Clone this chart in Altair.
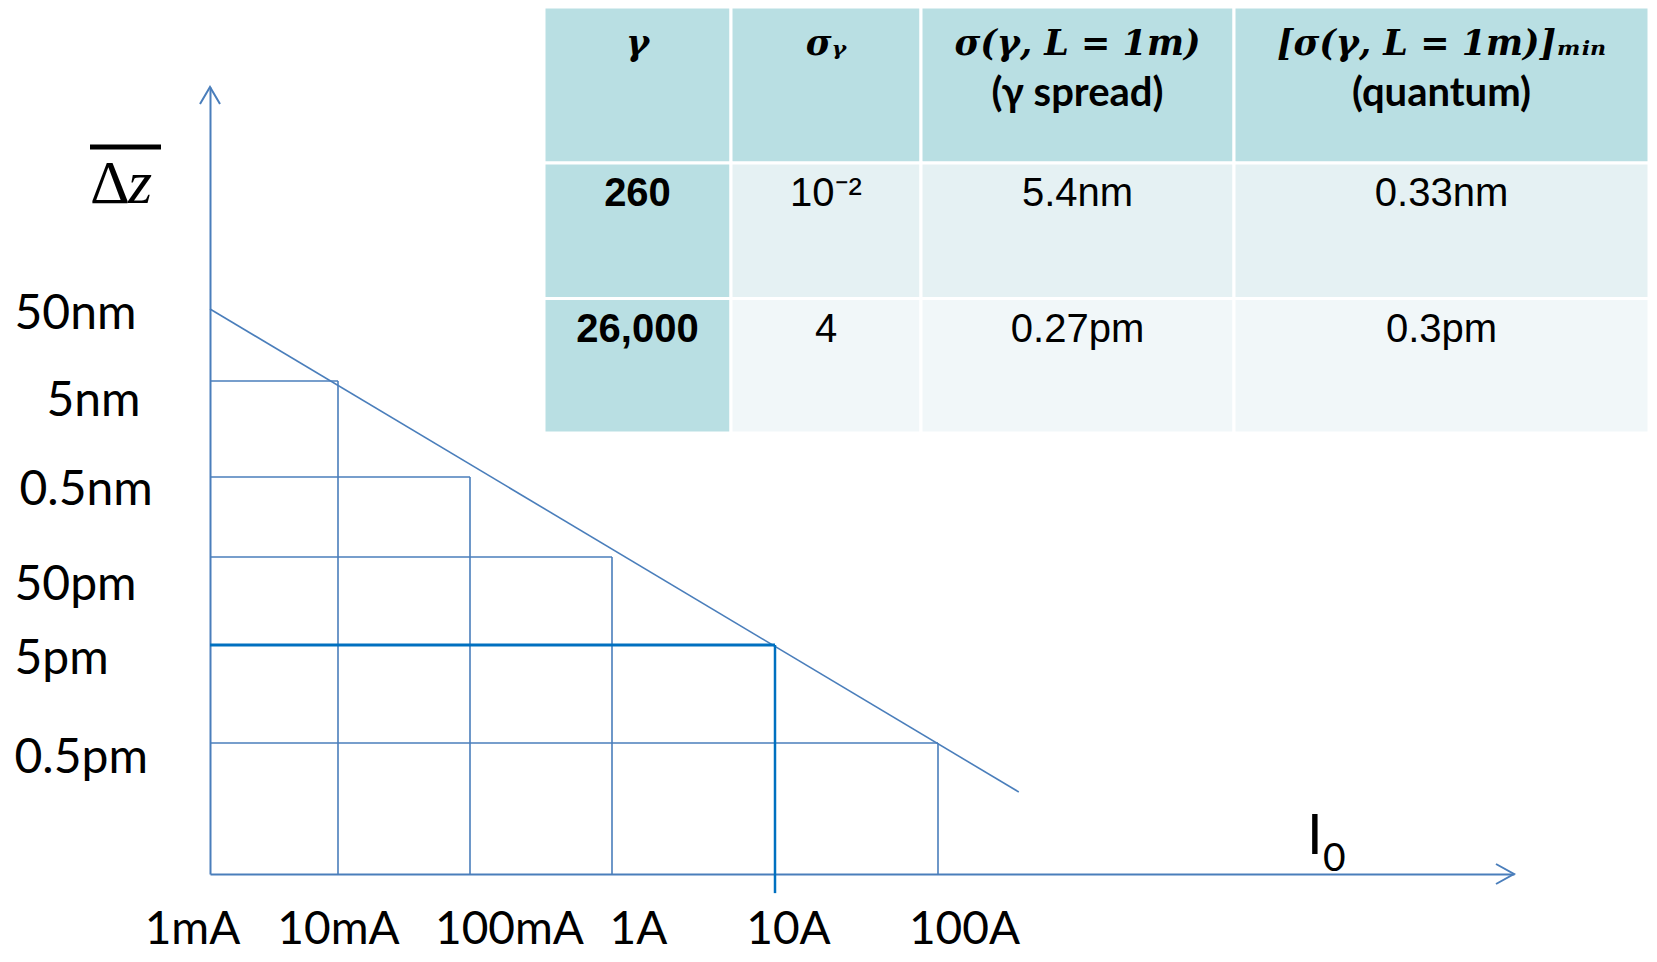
import json
import altair as alt
import pandas as pd

# ---------------- data ----------------
I_vals = [1e-3, 1e-2, 1e-1, 1, 10, 100]
I_labels = ["1mA", "10mA", "100mA", "1A", "10A", "100A"]
dz_vals = [5e-8, 5e-9, 5e-10, 5e-11, 5e-12, 5e-13]
dz_labels = ["50nm", "5nm", "0.5nm", "50pm", "5pm", "0.5pm"]

# points where the guide lines meet the sloped line
pt_I = [1e-2, 1e-1, 1, 10, 100]
pt_dz = [5e-9, 5e-10, 5e-11, 5e-12, 5e-13]

# sloped line ends
line_I = [1e-3, 320]
line_dz = [5e-8, 1.5e-13]

I_axis_end = 4e5        # I0 axis arrow tip
dz_axis_top = 5e-5      # Δz axis arrow tip
dz_axis_floor = 2e-14   # level of the I0 axis
dz_mark_floor = 1.25e-14  # 10A mark reaches below the axis
I_highlight = 10

# table
header_math = ["γ", "σᵧ", "σ(γ, L = 1m)", "[σ(γ, L = 1m)]ₘᵢₙ"]
header_note = ["", "", "(γ spread)", "(quantum)"]
gamma = ["260", "26,000"]
sigma_gamma = ["10⁻²", "4"]
sigma_spread = ["5.4nm", "0.27pm"]
sigma_quantum = ["0.33nm", "0.3pm"]

# ---------------- layout / style ----------------
BLUE = "#4A7EBB"
HI = "#0070C0"
TEAL = "#B9DFE3"
ROW1 = "#E5F1F3"
ROW2 = "#F1F7F9"

W, H = 1439, 866
x_px = [0, 128, 260, 402, 565, 728, 1304]
y_px = [866, 735, 637, 549, 469, 373, 301, 79]
x_label_dx = [-18, 0, 39, 26, 13, 26]
y_label_pad = [196, 164, 191, 196, 196, 196]
y_label_dy = [19, 34, 27, 42, 28, 29]

col_px = [334, 521, 711, 1024, 1439]
row_px = [-1, 155, 290.5, 425]

xs = alt.Scale(type="log", domain=I_vals + [I_axis_end], range=x_px, nice=False)
ys = alt.Scale(type="log", domain=[dz_axis_floor] + sorted(dz_vals) + [dz_axis_top],
               range=y_px, nice=False)


def pick(arr, vals):
    return f"{json.dumps(arr)}[indexof({json.dumps(vals)}, datum.value)]"


x_axis = alt.Axis(
    values=I_vals, labelExpr=pick(I_labels, I_vals),
    labelOffset={"expr": pick(x_label_dx, I_vals)},
    labelPadding=69, labelBaseline="alphabetic", labelAlign="center",
    labelFont="Lato", labelFontSize=46, labelColor="black",
    labelFlush=False, labelOverlap=False, labelBound=False,
    ticks=False, tickSize=0, grid=False,
    domainColor=BLUE, domainWidth=2, title=None,
)
y_axis = alt.Axis(
    values=dz_vals, labelExpr=pick(dz_labels, dz_vals),
    labelOffset={"expr": pick(y_label_dy, dz_vals)},
    labelPadding={"expr": pick(y_label_pad, dz_vals)},
    labelBaseline="alphabetic", labelAlign="left",
    labelFont="Lato", labelFontSize=48, labelColor="black",
    labelFlush=False, labelOverlap=False, labelBound=False,
    ticks=False, tickSize=0, grid=False,
    domainColor=BLUE, domainWidth=2, title=None,
)


def X(field):
    return alt.X(field, type="quantitative", scale=xs, axis=x_axis)


def Y(field):
    return alt.Y(field, type="quantitative", scale=ys, axis=y_axis)


line_df = pd.DataFrame({"I": line_I, "dz": line_dz})
pts_df = pd.DataFrame({"I": pt_I, "dz": pt_dz})

diag = alt.Chart(line_df).mark_line(color=BLUE, strokeWidth=1.6).encode(
    x=X("I"), y=Y("dz"))

hrules = alt.Chart(pts_df).transform_filter(
    alt.datum.I != I_highlight).mark_rule(color=BLUE, strokeWidth=1.7).encode(
    x=X("I"), x2=alt.X2(datum=I_vals[0]), y=Y("dz"))
vrules = alt.Chart(pts_df).transform_filter(
    alt.datum.I != I_highlight).mark_rule(color=BLUE, strokeWidth=1.6).encode(
    x=X("I"), y=Y("dz"), y2=alt.Y2(datum=dz_axis_floor))

hi_h = alt.Chart(pts_df).transform_filter(
    alt.datum.I == I_highlight).mark_rule(color=HI, strokeWidth=3).encode(
    x=X("I"), x2=alt.X2(datum=I_vals[0]), y=Y("dz"))
hi_v = alt.Chart(pts_df).transform_filter(
    alt.datum.I == I_highlight).mark_rule(color=HI, strokeWidth=2.5).encode(
    x=X("I"), y=Y("dz"), y2=alt.Y2(datum=dz_mark_floor))

arrow_y = alt.Chart(pd.DataFrame({"I": [I_vals[0]], "dz": [dz_axis_top]})).mark_point(
    shape="M-1,1.7L0,0L1,1.7", size=400, filled=False, color=BLUE,
    strokeWidth=2, opacity=1).encode(x=X("I"), y=Y("dz"))
arrow_x = alt.Chart(pd.DataFrame({"I": [I_axis_end], "dz": [dz_axis_floor]})).mark_point(
    shape="M-1.8,-1L0,0L-1.8,1", size=400, filled=False, color=BLUE,
    strokeWidth=2, opacity=1).encode(x=X("I"), y=Y("dz"))

one = pd.DataFrame({"k": [0]})
lab_delta = alt.Chart(one).mark_text(
    text="Δ", font="Liberation Serif", fontSize=62, align="left",
    baseline="alphabetic", color="black").encode(x=alt.value(-120), y=alt.value(195))
lab_z = alt.Chart(one).mark_text(
    text="z", font="Liberation Serif", fontStyle="italic", fontSize=62, align="left",
    baseline="alphabetic", color="black").encode(x=alt.value(-82), y=alt.value(195))
lab_bar = alt.Chart(one).mark_rule(color="black", strokeWidth=5).encode(
    x=alt.value(-120), x2=alt.value(-49), y=alt.value(139))
lab_I = alt.Chart(one).mark_text(
    text="I", font="Lato", fontSize=56, align="left", baseline="alphabetic",
    color="black").encode(x=alt.value(1097), y=alt.value(846))
lab_0 = alt.Chart(one).mark_text(
    text="0", font="Lato", fontSize=39, align="left", baseline="alphabetic",
    color="black").encode(x=alt.value(1113), y=alt.value(863))

plot = alt.layer(diag, hrules, vrules, hi_h, hi_v, arrow_y, arrow_x,
                 lab_delta, lab_z, lab_bar, lab_I, lab_0)

# ---------------- table ----------------
tx = alt.Scale(domain=[0, 1, 2, 3, 4], range=col_px, nice=False, zero=False)
ty = alt.Scale(domain=[0, 1, 2, 3], range=row_px, nice=False, zero=False)


def TX(field):
    return alt.X(field, type="quantitative", scale=tx, axis=None)


def TY(field):
    return alt.Y(field, type="quantitative", scale=ty, axis=None)


cells = pd.DataFrame([{"row": r, "col": c} for r in range(3) for c in range(4)])
rects = alt.Chart(cells).transform_calculate(
    col_end="datum.col + 1", row_end="datum.row + 1",
    kind="datum.row == 0 || datum.col == 0 ? 'head' : (datum.row == 1 ? 'odd' : 'even')",
).mark_rect(stroke="white", strokeWidth=3).encode(
    x=TX("col"), x2="col_end:Q", y=TY("row"), y2="row_end:Q",
    color=alt.Color("kind:N", scale=alt.Scale(domain=["head", "odd", "even"],
                                              range=[TEAL, ROW1, ROW2]), legend=None),
)

head_df = pd.DataFrame({"col": [0, 1, 2, 3], "row": [0] * 4,
                        "math": header_math, "note": header_note})
head1 = alt.Chart(head_df).transform_calculate(xc="datum.col + 0.5").mark_text(
    font="DejaVu Serif", fontStyle="italic", fontWeight="bold", fontSize=35,
    baseline="alphabetic", dy=48, color="black").encode(
    x=TX("xc"), y=TY("row"), text="math:N")
head2 = alt.Chart(head_df).transform_calculate(xc="datum.col + 0.5").mark_text(
    font="Lato", fontWeight="bold", fontSize=40,
    baseline="alphabetic", dy=99, color="black").encode(
    x=TX("xc"), y=TY("row"), text="note:N")

body_rows = []
for r in range(2):
    for c, colvals in enumerate([gamma, sigma_gamma, sigma_spread, sigma_quantum]):
        body_rows.append({"row": r + 1, "col": c, "txt": colvals[r]})
body_df = pd.DataFrame(body_rows)
body_bold = alt.Chart(body_df).transform_filter(alt.datum.col == 0).transform_calculate(
    xc="datum.col + 0.5").mark_text(
    font="Liberation Sans", fontWeight="bold", fontSize=40,
    baseline="alphabetic", dy=43, color="black").encode(
    x=TX("xc"), y=TY("row"), text="txt:N")
body_plain = alt.Chart(body_df).transform_filter(alt.datum.col != 0).transform_calculate(
    xc="datum.col + 0.5").mark_text(
    font="Liberation Sans", fontSize=40,
    baseline="alphabetic", dy=43, color="black").encode(
    x=TX("xc"), y=TY("row"), text="txt:N")

table = alt.layer(rects, head1, head2, body_bold, body_plain)

chart = alt.layer(plot, table).resolve_scale(
    x="independent", y="independent", color="independent"
).properties(
    width=W, height=H,
    padding={"left": 202, "top": 0, "right": 0, "bottom": 80},
    autosize=alt.AutoSizeParams(type="none"),
).configure_view(stroke=None)

chart.save("out.html", embed_options={"renderer": "svg", "actions": False})
